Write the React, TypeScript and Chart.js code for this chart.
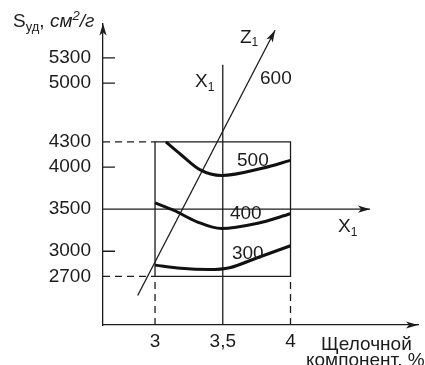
import { useEffect, useRef } from "react";
import { Chart, registerables } from "chart.js";

Chart.register(...registerables);

const FONT = "'Liberation Sans', Arial, Helvetica, sans-serif";
const INK = "#1c1c1c";

// Axis ticks
const xTickValues = [3, 3.5, 4];
const yTickValues = [2700, 3000, 3500, 4000, 4300, 5000, 5300];
const yMarkedTicks = [3000, 4000, 5000, 5300];

// Visible axis ranges
const xRange = [2.616, 4.941];
const yRange = [2123, 5709];

// Level curves of Z1
const level500X = [3.08, 3.19, 3.33, 3.49, 3.8, 4.0];
const level500Y = [4300, 4150, 3970, 3900, 3990, 4080];
const level400X = [3.0, 3.14, 3.31, 3.49, 3.75, 4.0];
const level400Y = [3575, 3485, 3350, 3270, 3330, 3445];
const level300X = [3.0, 3.19, 3.4, 3.55, 3.75, 4.0];
const level300Y = [2835, 2797, 2782, 2804, 2920, 3065];

// Z1 direction line
const z1X = [2.872, 3.886];
const z1Y = [2473, 5627];

// Design region and centre point
const boxX = [3, 4];
const boxY = [2700, 4300];
const centre = [3.5, 3500];
const x1VerticalTop = 5218;
const x1HorizontalEnd = 4.587;

const pts = (xs: number[], ys: number[]) => xs.map((x, i) => ({ x, y: ys[i] }));

type Run = { text: string; size: number; italic?: boolean; dy?: number };

function drawRuns(ctx: CanvasRenderingContext2D, x: number, y: number, runs: Run[]) {
  let cx = x;
  for (const r of runs) {
    ctx.font = `${r.italic ? "italic " : ""}${r.size}px ${FONT}`;
    ctx.fillText(r.text, cx, y + (r.dy || 0));
    cx += ctx.measureText(r.text).width;
  }
}

function arrowHead(ctx: CanvasRenderingContext2D, fx: number, fy: number, tx: number, ty: number) {
  const len = 12;
  const half = 3.6;
  const a = Math.atan2(ty - fy, tx - fx);
  const cos = Math.cos(a);
  const sin = Math.sin(a);
  const bx = tx - len * cos;
  const by = ty - len * sin;
  const nx = tx - len * 0.75 * cos;
  const ny = ty - len * 0.75 * sin;
  ctx.beginPath();
  ctx.moveTo(tx, ty);
  ctx.lineTo(bx - half * sin, by + half * cos);
  ctx.lineTo(nx, ny);
  ctx.lineTo(bx + half * sin, by - half * cos);
  ctx.closePath();
  ctx.fill();
}

const decorations = {
  id: "decorations",
  afterDatasetsDraw(chart: any) {
    const { ctx, chartArea } = chart;
    const xs = chart.scales.x;
    const ys = chart.scales.y;
    const px = (v: number) => xs.getPixelForValue(v);
    const py = (v: number) => ys.getPixelForValue(v);
    ctx.save();
    ctx.fillStyle = INK;
    ctx.strokeStyle = INK;

    // inward tick marks on the vertical axis
    ctx.lineWidth = 1.3;
    ctx.beginPath();
    for (const v of yMarkedTicks) {
      ctx.moveTo(chartArea.left, py(v));
      ctx.lineTo(chartArea.left + 12, py(v));
    }
    ctx.stroke();

    // arrow heads
    arrowHead(ctx, chartArea.left, chartArea.bottom, chartArea.left, chartArea.top);
    arrowHead(ctx, chartArea.left, chartArea.bottom, chartArea.right, chartArea.bottom);
    arrowHead(ctx, px(z1X[0]), py(z1Y[0]), px(z1X[1]), py(z1Y[1]));
    arrowHead(ctx, px(xRange[0]), py(centre[1]), px(x1HorizontalEnd), py(centre[1]));

    ctx.textBaseline = "alphabetic";
    ctx.textAlign = "left";

    // axis titles
    drawRuns(ctx, 13, 27, [
      { text: "S", size: 19 },
      { text: "уд", size: 13, dy: 4 },
      { text: ", ", size: 19 },
      { text: "см", size: 19, italic: true },
      { text: "2", size: 13, italic: true, dy: -7 },
      { text: "/г", size: 19, italic: true },
    ]);
    drawRuns(ctx, 321, 350, [{ text: "Щелочной", size: 19 }]);
    drawRuns(ctx, 306, 366, [{ text: "компонент, %", size: 19 }]);

    // in-plot labels
    drawRuns(ctx, px(3.295), py(4949), [
      { text: "X", size: 19 },
      { text: "1", size: 12, dy: 4 },
    ]);
    drawRuns(ctx, px(4.351), py(3233), [
      { text: "X", size: 19 },
      { text: "1", size: 12, dy: 4 },
    ]);
    drawRuns(ctx, px(3.627), py(5475), [
      { text: "Z", size: 19 },
      { text: "1", size: 12, dy: 3 },
    ]);
    drawRuns(ctx, px(3.775), py(4985), [{ text: "600", size: 19 }]);
    drawRuns(ctx, px(3.605), py(4015), [{ text: "500", size: 19 }]);
    drawRuns(ctx, px(3.553), py(3384), [{ text: "400", size: 19 }]);
    drawRuns(ctx, px(3.568), py(2906), [{ text: "300", size: 19 }]);
    ctx.restore();
  },
};

export default function App() {
  const ref = useRef<HTMLCanvasElement>(null);

  useEffect(() => {
    if (!ref.current) return;
    const thin = { borderColor: INK, borderWidth: 1.3, pointRadius: 0, tension: 0, fill: false };
    const dashed = { ...thin, borderDash: [7, 5] };
    const thick = {
      borderColor: "#111111",
      borderWidth: 3,
      pointRadius: 0,
      fill: false,
      cubicInterpolationMode: "monotone" as const,
    };
    const chart = new Chart(ref.current, {
      type: "line",
      data: {
        datasets: [
          { ...thick, data: pts(level500X, level500Y) },
          { ...thick, data: pts(level400X, level400Y) },
          { ...thick, data: pts(level300X, level300Y) },
          { ...thin, data: pts(z1X, z1Y) },
          {
            ...thin,
            data: pts(
              [boxX[0], boxX[1], boxX[1], boxX[0], boxX[0]],
              [boxY[0], boxY[0], boxY[1], boxY[1], boxY[0]]
            ),
          },
          { ...thin, data: pts([centre[0], centre[0]], [yRange[0], x1VerticalTop]) },
          { ...thin, data: pts([xRange[0], x1HorizontalEnd], [centre[1], centre[1]]) },
          { ...dashed, data: pts([xRange[0], boxX[0]], [boxY[1], boxY[1]]) },
          { ...dashed, data: pts([xRange[0], boxX[0]], [boxY[0], boxY[0]]) },
          { ...dashed, data: pts([boxX[0], boxX[0]], [yRange[0], boxY[0]]) },
          { ...dashed, data: pts([boxX[1], boxX[1]], [yRange[0], boxY[0]]) },
        ] as any,
      },
      options: {
        animation: false,
        responsive: false,
        maintainAspectRatio: false,
        parsing: false,
        clip: false as any,
        layout: { padding: { top: 18, right: 7, left: 0, bottom: 0 } },
        plugins: { legend: { display: false }, tooltip: { enabled: false } },
        scales: {
          x: {
            type: "linear",
            position: "bottom",
            min: xRange[0],
            max: xRange[1],
            afterBuildTicks: (s: any) => {
              s.ticks = xTickValues.map((v) => ({ value: v }));
            },
            afterFit: (s: any) => {
              s.height = 40;
            },
            grid: { display: false, drawTicks: false },
            border: { display: true, color: INK, width: 1.3 },
            ticks: {
              padding: 5,
              color: INK,
              font: { family: FONT, size: 19 },
              maxRotation: 0,
              autoSkip: false,
              callback: (v: any) => String(v).replace(".", ","),
            },
          },
          y: {
            type: "linear",
            position: "left",
            min: yRange[0],
            max: yRange[1],
            afterBuildTicks: (s: any) => {
              s.ticks = yTickValues.map((v) => ({ value: v }));
            },
            afterFit: (s: any) => {
              s.width = 103;
            },
            grid: { display: false, drawTicks: false },
            border: { display: true, color: INK, width: 1.3 },
            ticks: {
              padding: 12,
              color: INK,
              font: { family: FONT, size: 19 },
              autoSkip: false,
              callback: (v: any) => String(v),
            },
          },
        },
      },
      plugins: [decorations],
    });
    return () => chart.destroy();
  }, []);

  return (
    <div style={{ position: "absolute", left: 0, top: 0, width: 425, height: 365, background: "#fff" }}>
      <canvas ref={ref} width={425} height={365} />
    </div>
  );
}
